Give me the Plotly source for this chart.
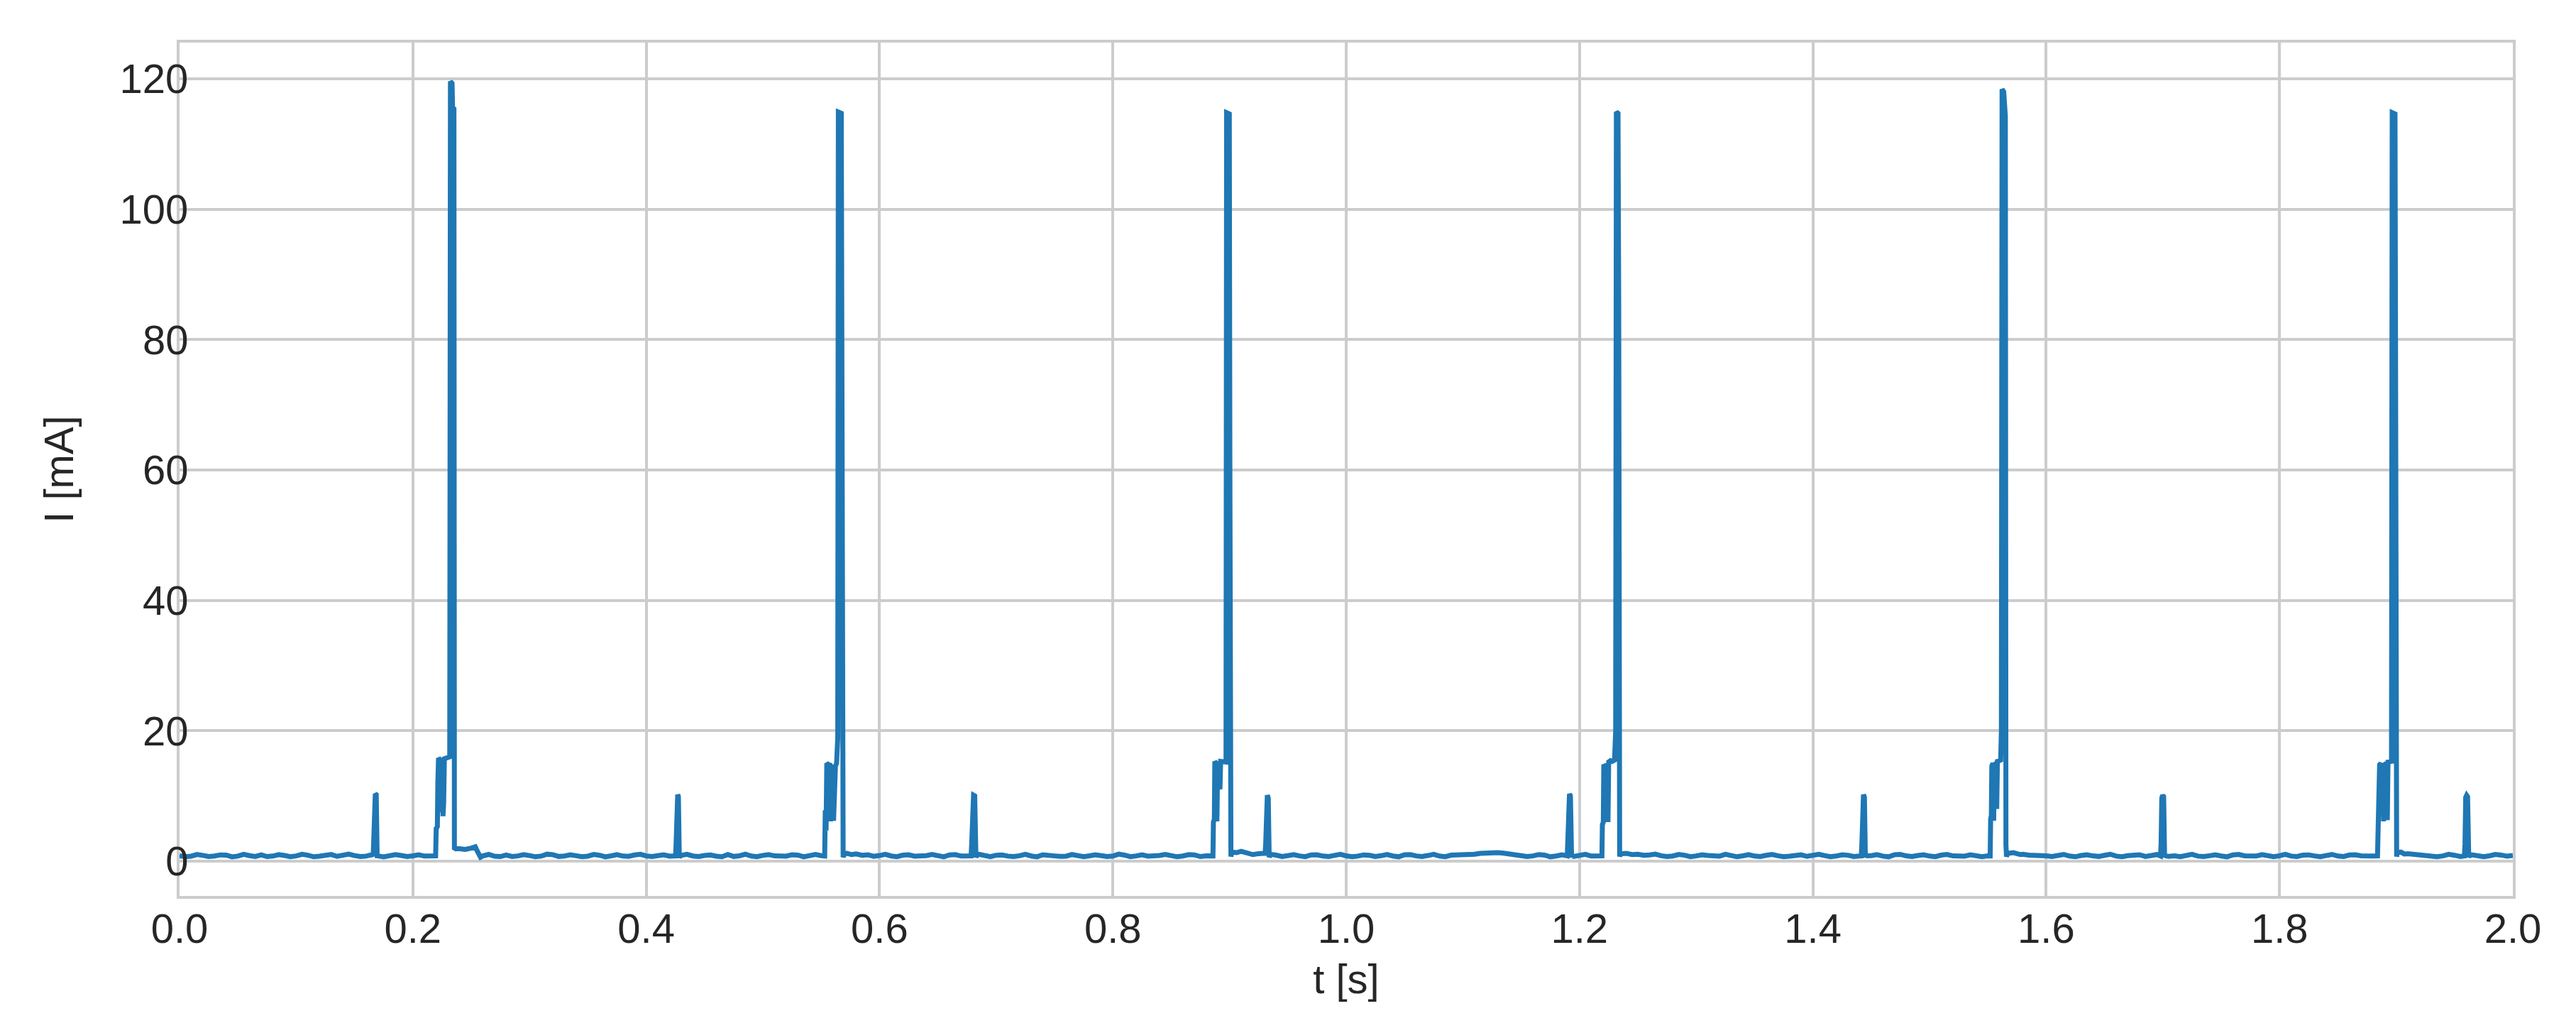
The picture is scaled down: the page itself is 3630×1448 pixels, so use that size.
import numpy as np
import plotly.graph_objects as go

BASE_T = np.round(np.arange(0, 2.0001, 0.01), 2)
BASE_I = [
    0.82, 0.76, 0.88, 0.79, 0.93, 0.77, 0.84, 0.97, 0.78, 0.86,
    0.80, 0.91, 0.75, 1.02, 0.81, 0.85, 0.77, 0.92, 0.79, 0.87,
    0.81, 0.78, 0.84, 0.80, 0.86, 0.79, 0.83, 0.76, 0.94, 0.80,
    0.85, 0.77, 0.99, 0.79, 0.83, 0.76, 0.90, 0.81, 0.78, 0.95,
    0.80, 0.84, 0.77, 0.89, 0.79, 0.86, 0.76, 1.00, 0.82, 0.78,
    0.88, 0.80, 0.76, 0.93, 0.79, 0.85, 0.82, 1.05, 1.15, 0.98,
    0.86, 0.79, 0.92, 0.77, 0.84, 0.81, 0.96, 0.78, 0.85, 0.80,
    0.90, 0.77, 0.83, 0.79, 0.97, 0.80, 0.76, 0.88, 0.81, 0.84,
    0.78, 0.93, 0.80, 0.77, 0.86, 0.82, 0.79, 0.95, 0.81, 0.84,
    1.35, 1.28, 1.40, 1.18, 0.92, 0.84, 0.80, 0.95, 0.78, 0.88,
    0.81, 0.77, 0.90, 0.83, 0.79, 0.98, 0.80, 0.86, 0.78, 0.92,
    0.84, 1.05, 1.25, 1.30, 1.10, 0.88, 0.80, 0.93, 0.79, 0.85,
    0.82, 0.78, 0.87, 0.80, 1.15, 1.05, 0.95, 0.83, 0.79, 0.91,
    0.80, 0.86, 0.77, 0.94, 0.81, 0.78, 0.89, 0.82, 0.76, 0.97,
    0.80, 0.85, 0.78, 0.91, 0.79, 0.84, 0.77, 0.99, 0.81, 0.86,
    0.78, 0.92, 0.80, 0.76, 0.87, 0.82, 0.79, 1.20, 1.05, 0.90,
    0.81, 0.95, 0.78, 0.86, 0.80, 0.90, 0.77, 0.84, 0.98, 0.79,
    0.85, 0.80, 0.93, 0.77, 0.83, 0.79, 0.96, 0.81, 0.78, 0.88,
    0.82, 0.77, 0.91, 0.80, 0.85, 0.78, 0.94, 0.81, 0.79, 0.86,
    1.30, 1.15, 0.95, 0.84, 0.80, 0.90, 0.78, 0.87, 0.81, 0.93,
    0.88,
]
# in-between samples (t = 0.005, 0.015, ... 1.995 s): the ripple on the baseline
MID_T = np.round(np.arange(0.005, 2.0, 0.01), 3)
MID_I = [
    0.68, 1.02, 0.71, 0.96, 0.66, 1.05, 0.72, 0.70, 0.99, 0.69,
    1.04, 0.67, 0.95, 0.73, 1.08, 0.70, 0.98, 0.66, 1.01, 0.71,
    0.97, 0.69, 1.06, 0.72, 0.95, 0.68, 1.03, 0.70, 0.71, 1.00,
    0.67, 1.07, 0.72, 0.96, 0.69, 1.02, 0.66, 0.99, 0.73, 1.05,
    0.70, 0.97, 0.68, 1.04, 0.71, 0.95, 0.67, 0.72, 1.06, 0.69,
    1.01, 0.70, 0.98, 0.66, 1.03, 0.72, 0.96, 0.70, 1.00, 0.74,
    1.05, 0.68, 0.97, 0.71, 1.02, 0.67, 0.99, 0.72, 1.06, 0.69,
    0.95, 0.70, 1.04, 0.66, 0.98, 0.73, 1.01, 0.68, 0.97, 0.71,
    1.07, 0.69, 0.96, 0.72, 1.02, 0.67, 0.99, 0.70, 0.73, 0.75,
    1.22, 1.45, 1.15, 1.05, 0.72, 1.00, 0.68, 0.97, 0.71, 1.04,
    0.69, 0.96, 0.72, 1.03, 0.67, 0.99, 0.70, 1.05, 0.68, 0.97,
    0.95, 1.20, 1.38, 1.22, 0.98, 0.70, 1.01, 0.67, 0.96, 0.72,
    1.04, 0.69, 0.98, 0.71, 1.25, 0.90, 1.08, 0.70, 1.02, 0.68,
    0.97, 0.72, 1.05, 0.67, 0.99, 0.70, 1.03, 0.69, 0.96, 0.73,
    1.06, 0.68, 0.98, 0.71, 0.72, 1.00, 0.67, 1.04, 0.70, 0.97,
    0.69, 1.02, 0.72, 0.96, 0.68, 1.05, 0.71, 1.30, 0.92, 0.99,
    0.70, 1.03, 0.67, 0.98, 0.72, 1.06, 0.69, 0.96, 0.71, 1.01,
    0.73, 0.68, 1.04, 0.70, 0.97, 0.67, 1.02, 0.72, 0.99, 0.69,
    1.05, 0.71, 0.96, 0.68, 1.03, 0.70, 0.98, 0.72, 0.74, 0.80,
    1.42, 1.05, 1.00, 0.69, 1.04, 0.71, 0.97, 0.68, 1.02, 0.75,
]

# small ~10 mA peaks (t [s], I [mA])
SMALL_1 = [(0.1660, 0.8), (0.1664, 2.6), (0.1670, 9.6), (0.1678, 10.3), (0.1686, 10.2),
           (0.1690, 6.0), (0.1694, 0.5), (0.1700, 0.8)]
SMALL_2 = [(0.4252, 0.8), (0.4256, 2.5), (0.4262, 9.8), (0.4270, 10.2), (0.4276, 9.9),
           (0.4280, 5.5), (0.4284, 0.5), (0.4290, 0.8)]
SMALL_3 = [(0.6785, 0.8), (0.6790, 2.7), (0.6796, 9.8), (0.6806, 10.1), (0.6816, 10.0),
           (0.6822, 4.0), (0.6826, 0.6), (0.6832, 0.8)]
SMALL_4 = [(0.9305, 1.2), (0.9310, 2.6), (0.9316, 9.8), (0.9324, 10.1), (0.9332, 9.7),
           (0.9336, 5.0), (0.9340, 0.6), (0.9346, 0.9)]
SMALL_5 = [(1.1895, 0.8), (1.1900, 3.5), (1.1906, 9.5), (1.1914, 10.3), (1.1922, 10.0),
           (1.1928, 6.5), (1.1932, 0.6), (1.1938, 0.8)]
SMALL_6 = [(1.4415, 0.8), (1.4420, 2.5), (1.4426, 9.9), (1.4434, 10.2), (1.4442, 9.8),
           (1.4446, 5.0), (1.4450, 0.6), (1.4456, 0.8)]
SMALL_7 = [(1.6980, 0.8), (1.6985, 2.6), (1.6991, 9.7), (1.6999, 10.1), (1.7007, 9.9),
           (1.7011, 5.0), (1.7015, 0.6), (1.7021, 0.8)]
SMALL_8 = [(1.9585, 0.8), (1.9590, 2.7), (1.9596, 9.8), (1.9604, 10.1), (1.9612, 9.9),
           (1.9618, 5.0), (1.9622, 0.6), (1.9628, 0.8)]

# big bursts: ~15 mA shoulder then ~115-120 mA peak (t [s], I [mA])
BURST_1 = [(0.2195, 0.8), (0.2200, 5.0), (0.2210, 5.3), (0.2214, 12.0), (0.2220, 15.8),
           (0.2230, 15.6), (0.2236, 7.5), (0.2242, 15.7), (0.2252, 15.4), (0.2258, 6.9),
           (0.2264, 9.0), (0.2270, 15.7), (0.2290, 15.9), (0.2316, 16.0), (0.2322, 119.6),
           (0.2336, 119.3), (0.2340, 115.6), (0.2352, 115.4), (0.2356, 1.8), (0.2365, 1.9),
           (0.2400, 1.9), (0.2450, 1.8), (0.2500, 2.0), (0.2535, 2.2), (0.2550, 1.6),
           (0.2565, 0.9), (0.2580, 0.6), (0.2600, 0.8)]
BURST_2 = [(0.5530, 0.8), (0.5535, 7.8), (0.5542, 4.7), (0.5548, 15.0), (0.5565, 14.8),
           (0.5575, 15.0), (0.5580, 6.1), (0.5588, 14.5), (0.5600, 14.7), (0.5606, 6.2),
           (0.5612, 11.8), (0.5622, 14.6), (0.5632, 15.0), (0.5642, 19.0), (0.5647, 114.9),
           (0.5672, 114.7), (0.5680, 58.9), (0.5684, 7.6), (0.5688, 0.6), (0.5695, 1.0),
           (0.5720, 1.2), (0.5760, 1.0), (0.5800, 1.1), (0.5850, 0.9)]
BURST_3 = [(0.8858, 0.8), (0.8862, 6.0), (0.8870, 6.4), (0.8874, 15.3), (0.8886, 15.0),
           (0.8892, 6.1), (0.8898, 14.8), (0.8912, 15.1), (0.8918, 11.0), (0.8924, 15.3),
           (0.8970, 15.2), (0.8975, 114.8), (0.8998, 114.6), (0.9003, 60.0), (0.9008, 5.0),
           (0.9012, 0.7), (0.9020, 1.4), (0.9060, 1.3), (0.9100, 1.5), (0.9150, 1.2),
           (0.9200, 1.0)]
BURST_4 = [(1.2192, 0.8), (1.2196, 5.6), (1.2204, 6.0), (1.2208, 14.8), (1.2218, 14.6),
           (1.2224, 11.6), (1.2236, 15.0), (1.2244, 6.0), (1.2250, 15.2), (1.2265, 15.4),
           (1.2280, 15.3), (1.2300, 15.5), (1.2310, 20.0), (1.2316, 114.9), (1.2330, 114.7),
           (1.2336, 85.0), (1.2340, 3.0), (1.2344, 0.7), (1.2350, 1.1), (1.2400, 1.2),
           (1.2450, 1.0)]
BURST_5 = [(1.5520, 0.8), (1.5524, 6.5), (1.5530, 7.0), (1.5534, 14.6), (1.5544, 15.0),
           (1.5550, 6.2), (1.5556, 14.8), (1.5570, 15.0), (1.5576, 8.0), (1.5582, 15.3),
           (1.5610, 15.5), (1.5616, 20.0), (1.5622, 118.4), (1.5636, 118.0), (1.5641, 114.5),
           (1.5650, 114.2), (1.5655, 2.5), (1.5660, 0.7), (1.5670, 1.2), (1.5720, 1.3),
           (1.5780, 1.0)]
BURST_6 = [(1.8840, 0.8), (1.8846, 7.2), (1.8852, 8.5), (1.8858, 14.8), (1.8870, 15.0),
           (1.8876, 9.0), (1.8882, 14.6), (1.8892, 6.1), (1.8900, 14.8), (1.8915, 15.0),
           (1.8924, 6.3), (1.8930, 15.2), (1.8960, 15.3), (1.8966, 114.8), (1.8990, 114.6),
           (1.8996, 58.0), (1.9000, 4.0), (1.9004, 0.7), (1.9010, 1.3), (1.9040, 1.4),
           (1.9070, 1.1)]

EVENTS = [SMALL_1, BURST_1, SMALL_2, BURST_2, SMALL_3, BURST_3, SMALL_4, SMALL_5,
          BURST_4, SMALL_6, BURST_5, SMALL_7, BURST_6, SMALL_8]

X_TICKS = [0.0, 0.2, 0.4, 0.6, 0.8, 1.0, 1.2, 1.4, 1.6, 1.8, 2.0]
Y_TICKS = [0, 20, 40, 60, 80, 100, 120]

GRID = "#cccccc"
TEXT = "#262626"
FONT = "Liberation Sans, Arial, Helvetica, sans-serif"


def build_series(base_t, base_i, events):
    pts = list(zip(base_t, base_i))
    for ev in events:
        t0, t1 = ev[0][0], ev[-1][0]
        pts = [p for p in pts if not (t0 <= p[0] <= t1)]
        pts += ev
    pts.sort()
    return [p[0] for p in pts], [p[1] for p in pts]


t, i_ma = build_series(BASE_T.tolist() + MID_T.tolist(), BASE_I + MID_I, EVENTS)

fig = go.Figure()
fig.add_trace(go.Scatter(
    x=t, y=i_ma,
    mode="lines",
    line=dict(color="#1f77b4", width=7),
    showlegend=False,
))

# the page body keeps its default 8px margin, so the figure is 16px smaller than the window
fig.update_layout(
    width=3614, height=1432,
    autosize=False,
    paper_bgcolor="white",
    plot_bgcolor="white",
    margin=dict(l=245, r=81, t=52, b=178, pad=0),
    font=dict(family=FONT, size=58, color=TEXT),
)

fig.update_xaxes(
    range=[0, 2.0],
    tickvals=X_TICKS,
    ticktext=[f"{v:.1f}" for v in X_TICKS],
    showgrid=True, gridcolor=GRID, gridwidth=4,
    zeroline=False,
    showline=True, linecolor=GRID, linewidth=4, mirror=True,
    ticks="", ticklabelstandoff=-8,
    tickfont=dict(size=58, color=TEXT, family=FONT),
    title=dict(text="t [s]", font=dict(size=58, color=TEXT, family=FONT), standoff=21),
    automargin=False,
)
fig.update_yaxes(
    range=[-5.34, 125.55],
    tickvals=Y_TICKS,
    showgrid=True, gridcolor=GRID, gridwidth=4,
    zeroline=False,
    showline=True, linecolor=GRID, linewidth=4, mirror=True,
    ticks="", ticklabelstandoff=-28,
    tickfont=dict(size=58, color=TEXT, family=FONT),
    title=dict(text="I [mA]", font=dict(size=58, color=TEXT, family=FONT), standoff=47),
    automargin=False,
)

fig.write_html("out.html")
